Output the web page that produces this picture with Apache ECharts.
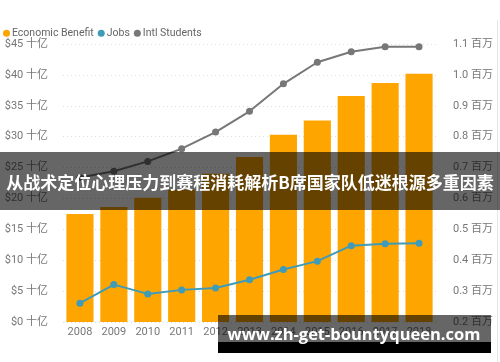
<!DOCTYPE html>
<html><head><meta charset="utf-8">
<script src="https://cdn.jsdelivr.net/npm/echarts@6/dist/echarts.min.js"></script>
<style>html,body{margin:0;padding:0;background:#fff}#c{width:500px;height:362px}</style>
</head><body><div id="c"></div>
<script>
const years = ['2008','2009','2010','2011','2012','2013','2014','2015','2016','2017','2018'];
const economicBenefit = [17.5, 18.6, 20.1, 21.4, 24.0, 26.7, 30.3, 32.6, 36.6, 38.7, 40.2];
const jobs = [0.261, 0.321, 0.291, 0.304, 0.310, 0.337, 0.370, 0.397, 0.447, 0.453, 0.455];
const intlStudents = [0.668, 0.688, 0.720, 0.761, 0.815, 0.882, 0.971, 1.041, 1.075, 1.091, 1.091];
const bannerText = '从战术定位心理压力到赛程消耗解析B席国家队低迷根源多重因素';
const watermarkText = 'www.zh-get-bountyqueen.com';

const font = 'Roboto, "Noto Sans CJK SC", sans-serif';
const chart = echarts.init(document.getElementById('c'));
chart.setOption({
  animation: false,
  textStyle: {fontFamily: font},
  legend: {
    left: -2, top: 23, icon: 'circle', itemWidth: 7, itemHeight: 7, itemGap: 4,
    textStyle: {color: '#666', fontSize: 10.5, fontFamily: font, padding: [0,0,0,-3]},
    data: ['Economic Benefit', 'Jobs', 'Intl Students']
  },
  grid: {left: 63, right: 64, top: 44, bottom: 40, containLabel: false, outerBoundsMode: 'none'},
  xAxis: {
    type: 'category', data: years,
    axisLine: {show: false}, axisTick: {show: false},
    axisLabel: {color: '#777', fontSize: 11, margin: 5, fontFamily: font}
  },
  yAxis: [{
    type: 'value', min: 0, max: 45, interval: 5,
    name: 'Economic Benefit', nameLocation: 'middle', nameRotate: 90, nameGap: 56,
    nameTextStyle: {color: '#333', fontSize: 11, fontFamily: font},
    axisLabel: {color: '#777', fontSize: 11, margin: 15, fontFamily: font, formatter: v => '$' + v + ' 十亿'},
    splitLine: {lineStyle: {color: '#ddd', type: [1, 3]}}
  }, {
    type: 'value', min: 0.2, max: 1.1, interval: 0.1,
    name: 'Jobs and Intl Students', nameLocation: 'middle', nameRotate: 90, nameGap: 54,
    nameTextStyle: {color: '#333', fontSize: 11, fontFamily: font},
    axisLabel: {color: '#777', fontSize: 11, margin: 17, fontFamily: font, formatter: v => v.toFixed(1) + ' 百万'},
    splitLine: {show: false}
  }],
  series: [{
    name: 'Economic Benefit', type: 'bar', data: economicBenefit, yAxisIndex: 0,
    barCategoryGap: '20%', itemStyle: {color: '#FFA500'}
  }, {
    name: 'Jobs', type: 'line', data: jobs, yAxisIndex: 1,
    symbol: 'circle', symbolSize: 7, lineStyle: {width: 2, color: '#3F9CB8'}, itemStyle: {color: '#3F9CB8'}
  }, {
    name: 'Intl Students', type: 'line', data: intlStudents, yAxisIndex: 1,
    symbol: 'circle', symbolSize: 7, lineStyle: {width: 2, color: '#777'}, itemStyle: {color: '#777'}
  }],
  graphic: [
    {type: 'line', shape: {x1: 497.5, y1: 20, x2: 497.5, y2: 362}, style: {stroke: '#e6e6e6', lineWidth: 1}},
    {type: 'rect', shape: {x: 0, y: 152, width: 500, height: 58}, style: {fill: 'rgba(0,0,0,0.6)'}, z: 100},
    {type: 'text', x: 250, y: 183, style: {text: bannerText, fill: '#fff', font: 'bold 17px "Noto Sans CJK SC", sans-serif', align: 'center', verticalAlign: 'middle'}, z: 101},
    {type: 'rect', shape: {x: 218, y: 315, width: 273, height: 27}, style: {fill: 'rgba(0,0,0,0.6)'}, z: 100},
    {type: 'rect', shape: {x: 218, y: 342, width: 273, height: 11}, style: {fill: '#000'}, z: 100},
    {type: 'text', x: 354, y: 335, style: {text: watermarkText, fill: '#fff', font: 'bold 16.5px "Open Sans", sans-serif', align: 'center', verticalAlign: 'middle'}, z: 101}
  ]
});
</script></body></html>
